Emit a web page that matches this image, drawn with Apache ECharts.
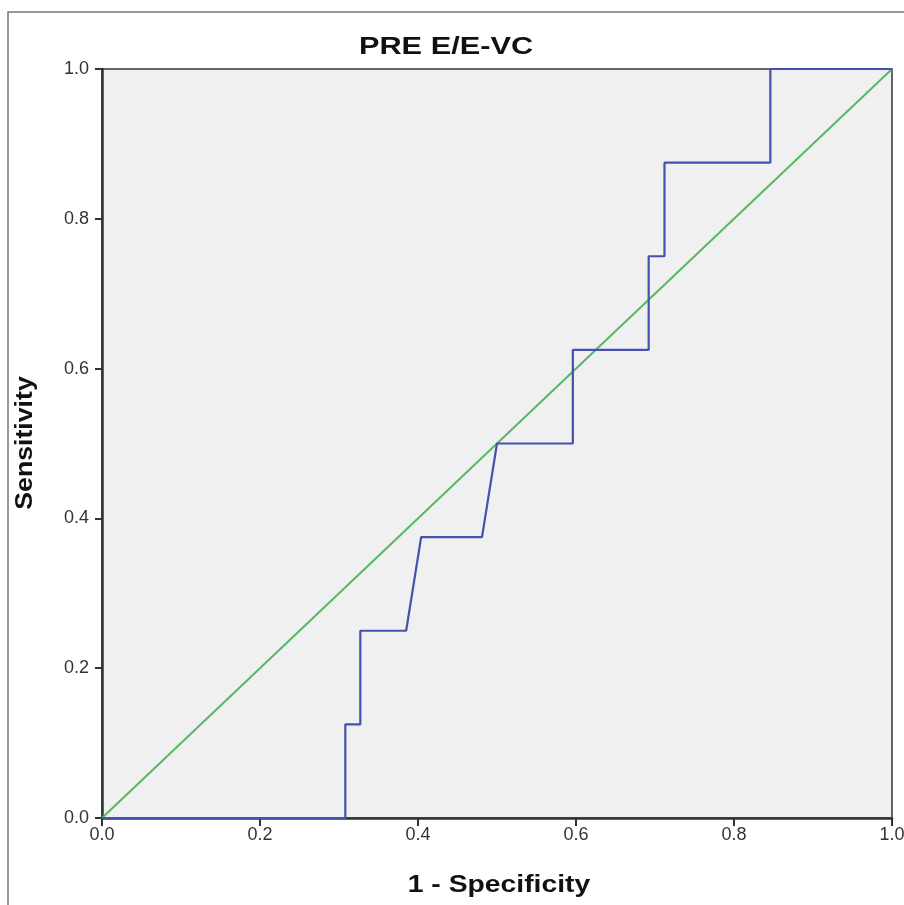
<!DOCTYPE html>
<html>
<head>
<meta charset="utf-8">
<script src="https://cdn.jsdelivr.net/npm/echarts@6/dist/echarts.min.js"></script>
<style>html,body{margin:0;padding:0;background:#fff}#c{width:904px;height:905px}</style>
</head>
<body>
<div id="c"></div>
<script>
const titleText = "PRE E/E-VC";
const xName = "1 - Specificity";
const yName = "Sensitivity";
const rocX = [0, 0.308, 0.308, 0.327, 0.327, 0.385, 0.404, 0.481, 0.5, 0.596, 0.596, 0.692, 0.692, 0.712, 0.712, 0.846, 0.846, 1];
const rocY = [0, 0, 0.125, 0.125, 0.25, 0.25, 0.375, 0.375, 0.5, 0.5, 0.625, 0.625, 0.75, 0.75, 0.875, 0.875, 1, 1];
const refX = [0, 1];
const refY = [0, 1];

const chart = echarts.init(document.getElementById('c'));
const font = 'Liberation Sans, Arial, sans-serif';
chart.setOption({
  animation: false,
  backgroundColor: '#ffffff',
  graphic: [
    { type: 'rect', shape: { x: 8, y: 12, width: 1000, height: 1000 }, style: { fill: 'none', stroke: '#777', lineWidth: 1.5 }, silent: true, z: -1 },
    { type: 'text', x: 446, y: 47, scaleX: 1.28, style: { text: titleText, fontFamily: font, fontSize: 24, fontWeight: 'bold', fill: '#111', align: 'center', verticalAlign: 'middle' } },
    { type: 'text', x: 26, y: 443, rotation: Math.PI / 2, scaleX: 1.16, style: { text: yName, fontFamily: font, fontSize: 23, fontWeight: 'bold', fill: '#111', align: 'center', verticalAlign: 'middle' } },
    { type: 'text', x: 499, y: 885, scaleX: 1.18, style: { text: xName, fontFamily: font, fontSize: 24, fontWeight: 'bold', fill: '#111', align: 'center', verticalAlign: 'middle' } }
  ],
  grid: {
    left: 102, right: 12, top: 69, bottom: 87, outerBoundsMode: 'none', containLabel: false,
    show: true, backgroundColor: '#f0f0f0', borderColor: '#333', borderWidth: 1.5
  },
  xAxis: {
    type: 'value', min: 0, max: 1, interval: 0.2,
    axisLine: { show: true, lineStyle: { color: '#333', width: 2.5 } },
    axisTick: { show: true, length: 8, lineStyle: { color: '#333', width: 2 } },
    axisLabel: { formatter: v => v.toFixed(1), fontFamily: font, fontSize: 18, color: '#333', margin: 8 },
    splitLine: { show: false }
  },
  yAxis: {
    type: 'value', min: 0, max: 1, interval: 0.2,
    axisLine: { show: true, lineStyle: { color: '#333', width: 2.5 } },
    axisTick: { show: true, length: 7, lineStyle: { color: '#333', width: 2 } },
    axisLabel: { formatter: v => v.toFixed(1), fontFamily: font, fontSize: 18, color: '#333', margin: 13 },
    splitLine: { show: false }
  },
  series: [
    {
      type: 'line', data: refX.map((x, i) => [x, refY[i]]), symbol: 'none',
      lineStyle: { color: '#55b865', width: 2 }, z: 2
    },
    {
      type: 'line', data: rocX.map((x, i) => [x, rocY[i]]), symbol: 'none',
      lineStyle: { color: '#4352ac', width: 2.2 }, z: 3
    }
  ]
});
</script>
</body>
</html>
